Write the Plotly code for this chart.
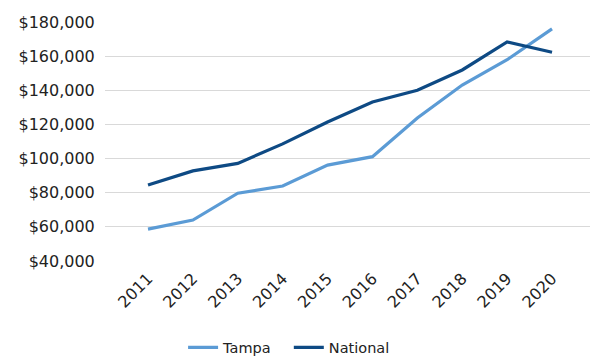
import plotly.graph_objects as go

years = ["2011", "2012", "2013", "2014", "2015", "2016", "2017", "2018", "2019", "2020"]
tampa = [58700, 64000, 79700, 83900, 96200, 101100, 123800, 143100, 157900, 176000]
national = [84500, 92800, 97200, 108600, 121400, 133100, 140000, 151900, 168300, 162300]
y_ticks = [40000, 60000, 80000, 100000, 120000, 140000, 160000, 180000]
y_labels = ["$40,000", "$60,000", "$80,000", "$100,000", "$120,000", "$140,000", "$160,000", "$180,000"]

FONT = "DejaVu Sans"

fig = go.Figure()
fig.add_trace(go.Scatter(x=years, y=tampa, name="Tampa", mode="lines",
                         line=dict(color="#5B9BD5", width=3.2), legend="legend"))
fig.add_trace(go.Scatter(x=years, y=national, name="National", mode="lines",
                         line=dict(color="#0E4A84", width=3.2), legend="legend2"))

leg_common = dict(orientation="h", y=-0.362, yanchor="middle", xanchor="left",
                  font=dict(size=14.5, family=FONT, color="#222222"),
                  itemwidth=30, bgcolor="rgba(0,0,0,0)")

fig.update_layout(
    width=590, height=358,
    margin=dict(l=105, r=0, t=22, b=97, autoexpand=False),
    paper_bgcolor="white", plot_bgcolor="white",
    font=dict(family=FONT, color="#222222", size=15),
    showlegend=True,
    legend=dict(x=0.161, **leg_common),
    legend2=dict(x=0.379, **leg_common),
    xaxis=dict(type="category", range=[-0.958, 9.846], tickangle=-45,
               showgrid=False, zeroline=False, showline=False, automargin=False,
               ticks="outside", ticklen=1, tickcolor="rgba(0,0,0,0)",
               tickfont=dict(size=16)),
    yaxis=dict(range=[40000, 180000], tickvals=y_ticks, ticktext=y_labels,
               showgrid=True, gridcolor="#D9D9D9", gridwidth=1.3, automargin=False,
               zeroline=False, showline=False,
               ticks="outside", ticklen=6, tickcolor="rgba(0,0,0,0)",
               tickfont=dict(size=16)),
)

fig.write_html("out.html")
